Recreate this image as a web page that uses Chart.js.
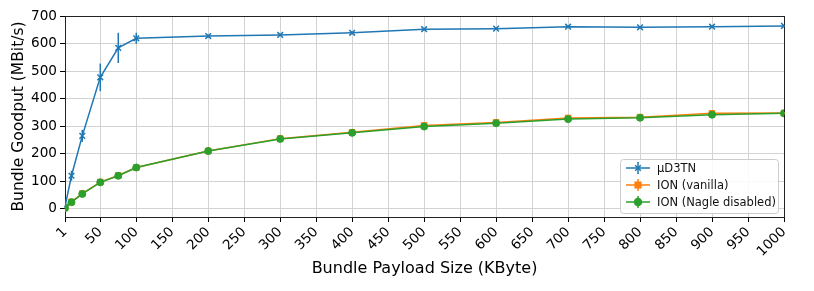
<!DOCTYPE html>
<html>
<head>
<meta charset="utf-8">
<script src="https://cdn.jsdelivr.net/npm/chart.js@4/dist/chart.umd.min.js"></script>
<style>
  html, body { margin: 0; padding: 0; background: #fff; }
  #wrap { width: 814px; height: 291px; }
</style>
</head>
<body>
<div id="wrap"><canvas id="chart" width="814" height="291"></canvas></div>
<script>
const payloadSizes = [1, 10, 25, 50, 75, 100, 200, 300, 400, 500, 600, 700, 800, 900, 1000];
const ud3tnGoodput = [8, 120, 265, 478, 585, 620, 628, 632, 640, 653, 655, 662, 660, 662, 665];
const ud3tnError = [4, 18, 22, 50, 55, 20, 5, 4, 5, 4, 4, 4, 4, 4, 4];
const ionVanilla = [3, 25, 55, 97, 121, 150, 210, 255, 278, 303, 314, 330, 333, 347, 348];
const ionVanillaError = [1, 2, 3, 4, 4, 4, 4, 4, 4, 4, 4, 4, 4, 4, 4];
const ionNagleOff = [3, 24, 54, 96, 120, 150, 210, 254, 276, 299, 311, 326, 331, 342, 347];
const ionNagleOffError = [1, 2, 3, 4, 4, 4, 4, 4, 4, 4, 4, 4, 4, 4, 4];
const xTicks = [1, 50, 100, 150, 200, 250, 300, 350, 400, 450, 500, 550, 600, 650, 700, 750, 800, 850, 900, 950, 1000];
const yTicks = [0, 100, 200, 300, 400, 500, 600, 700];
const seriesNames = ['\u00b5D3TN', 'ION (vanilla)', 'ION (Nagle disabled)'];

const FONT = 'DejaVu Sans';

function points(ys) {
    return payloadSizes.map((x, i) => ({ x: x, y: ys[i] }));
}

// vertical error bars, drawn under each dataset
const errorBars = {
    id: 'errorBars',
    beforeDatasetDraw(chart, args) {
        const ds = chart.data.datasets[args.index];
        if (!ds.errors) return;
        const ctx = chart.ctx;
        const xs = chart.scales.x, ys = chart.scales.y;
        ctx.save();
        ctx.strokeStyle = ds.borderColor;
        ctx.lineWidth = 1.5;
        ds.data.forEach((p, i) => {
            const px = xs.getPixelForValue(p.x);
            ctx.beginPath();
            ctx.moveTo(px, ys.getPixelForValue(p.y - ds.errors[i]));
            ctx.lineTo(px, ys.getPixelForValue(p.y + ds.errors[i]));
            ctx.stroke();
        });
        ctx.restore();
    }
};

// matplotlib-style legend inside the plot, lower right
const innerLegend = {
    id: 'innerLegend',
    afterDraw(chart) {
        const ctx = chart.ctx;
        const area = chart.chartArea;
        const w = 158, h = 54;
        const x0 = area.right - w - 6, y0 = area.bottom - h - 4;
        ctx.save();
        ctx.fillStyle = 'rgba(255,255,255,0.85)';
        ctx.strokeStyle = '#cccccc';
        ctx.lineWidth = 1;
        ctx.beginPath();
        ctx.roundRect(x0 + 0.5, y0 + 0.5, w, h, 3);
        ctx.fill();
        ctx.stroke();
        ctx.font = '11.5px ' + FONT;
        ctx.textBaseline = 'middle';
        chart.data.datasets.forEach((ds, i) => {
            const cy = y0 + 9 + i * 17;
            const lx = x0 + 6;
            ctx.strokeStyle = ds.borderColor;
            ctx.fillStyle = ds.backgroundColor;
            ctx.lineWidth = 1.5;
            ctx.beginPath();
            ctx.moveTo(lx, cy); ctx.lineTo(lx + 24, cy);
            ctx.moveTo(lx + 12, cy - 6); ctx.lineTo(lx + 12, cy + 6);
            ctx.stroke();
            Chart.helpers.drawPoint(ctx, {
                pointStyle: ds.pointStyle, radius: ds.pointRadius, rotation: 0,
                borderWidth: ds.pointBorderWidth || 1
            }, lx + 12, cy);
            ctx.fillStyle = '#111';
            ctx.fillText(ds.label, lx + 31, cy + 1);
        });
        ctx.restore();
    }
};

function renderChart() {
    const ctx = document.getElementById('chart').getContext('2d');
    new Chart(ctx, {
        type: 'line',
        data: {
            datasets: [
                {
                    label: seriesNames[0], data: points(ud3tnGoodput), errors: ud3tnError, order: 2,
                    borderColor: '#1f77b4', backgroundColor: '#1f77b4',
                    pointStyle: 'crossRot', pointRadius: 4, pointBorderWidth: 1.5, borderWidth: 1.5
                },
                {
                    label: seriesNames[1], data: points(ionVanilla), errors: ionVanillaError, order: 1,
                    borderColor: '#ff7f0e', backgroundColor: '#ff7f0e',
                    pointStyle: 'rect', pointRadius: 4, pointBorderWidth: 1, borderWidth: 1.5
                },
                {
                    label: seriesNames[2], data: points(ionNagleOff), errors: ionNagleOffError, order: 0,
                    borderColor: '#2ca02c', backgroundColor: '#2ca02c',
                    pointStyle: 'circle', pointRadius: 3.5, pointBorderWidth: 1, borderWidth: 1.5
                }
            ]
        },
        options: {
            responsive: false,
            animation: false,
            layout: { padding: { top: 16, right: 30, left: 0, bottom: 0 } },
            plugins: { legend: { display: false }, tooltip: { enabled: false } },
            elements: { line: { tension: 0 } },
            scales: {
                x: {
                    type: 'linear', min: 1, max: 1000,
                    afterBuildTicks: s => { s.ticks = xTicks.map(v => ({ value: v })); },
                    afterFit: s => { s.height = 74; },
                    ticks: {
                        minRotation: 45, maxRotation: 45, autoSkip: false,
                        callback: v => String(v),
                        color: '#000', font: { family: FONT, size: 13.6 }, padding: 2
                    },
                    grid: { color: '#d3d3d3', tickColor: '#000', tickLength: 5 },
                    border: { color: '#222', width: 1 },
                    title: {
                        display: true, text: 'Bundle Payload Size (KByte)', color: '#000',
                        font: { family: FONT, size: 16 }, padding: { top: 0, bottom: 13 }
                    }
                },
                y: {
                    min: -30, max: 701,
                    afterBuildTicks: s => { s.ticks = yTicks.map(v => ({ value: v })); },
                    afterFit: s => { s.width = 65; },
                    ticks: { color: '#000', font: { family: FONT, size: 13.6 }, padding: 3 },
                    grid: { color: '#d3d3d3', tickColor: '#000', tickLength: 5 },
                    border: { color: '#222', width: 1 },
                    title: {
                        display: true, text: 'Bundle Goodput (MBit/s)', color: '#000',
                        font: { family: FONT, size: 15.5 }, padding: { top: 10, bottom: 0 }
                    }
                },
                x2: {
                    type: 'linear', position: 'top', min: 1, max: 1000,
                    ticks: { display: false }, grid: { display: false },
                    border: { color: '#222', width: 1 },
                    afterFit: s => { s.height = 0; }
                },
                y2: {
                    position: 'right', min: -30, max: 701,
                    ticks: { display: false }, grid: { display: false },
                    border: { color: '#222', width: 1 },
                    afterFit: s => { s.width = 0; }
                }
            }
        },
        plugins: [errorBars, innerLegend]
    });
}

renderChart();
</script>
</body>
</html>
